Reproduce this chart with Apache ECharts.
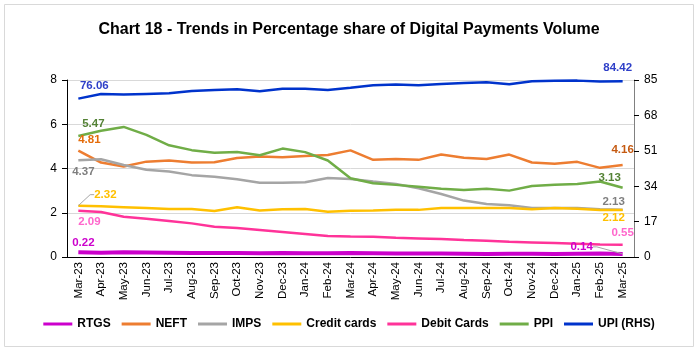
<!DOCTYPE html>
<html><head><meta charset="utf-8">
<script src="https://cdn.jsdelivr.net/npm/echarts@6/dist/echarts.min.js"></script>
<style>html,body{margin:0;padding:0;background:#fff}#c{width:698px;height:356px}</style>
</head><body><div id="c"></div>
<script>
const categories = ['Mar-23','Apr-23','May-23','Jun-23','Jul-23','Aug-23','Sep-23','Oct-23','Nov-23','Dec-23','Jan-24','Feb-24','Mar-24','Apr-24','May-24','Jun-24','Jul-24','Aug-24','Sep-24','Oct-24','Nov-24','Dec-24','Jan-25','Feb-25','Mar-25'];
const rtgs   = [0.22,0.19,0.21,0.20,0.19,0.18,0.18,0.18,0.17,0.18,0.17,0.17,0.18,0.17,0.16,0.16,0.16,0.15,0.14,0.15,0.15,0.14,0.15,0.16,0.14];
const neft   = [4.81,4.27,4.09,4.31,4.36,4.27,4.28,4.47,4.54,4.51,4.57,4.61,4.82,4.39,4.43,4.39,4.63,4.49,4.43,4.63,4.27,4.22,4.30,4.03,4.16];
const imps   = [4.37,4.42,4.16,3.94,3.86,3.70,3.63,3.51,3.36,3.36,3.38,3.57,3.53,3.41,3.30,3.11,2.85,2.55,2.40,2.34,2.22,2.22,2.21,2.16,2.13];
const credit = [2.32,2.29,2.25,2.21,2.17,2.17,2.08,2.25,2.10,2.16,2.17,2.05,2.09,2.10,2.13,2.13,2.22,2.21,2.21,2.21,2.16,2.21,2.18,2.12,2.12];
const debit  = [2.09,2.03,1.82,1.73,1.63,1.52,1.37,1.31,1.22,1.13,1.04,0.95,0.93,0.92,0.87,0.84,0.81,0.77,0.74,0.69,0.66,0.63,0.60,0.57,0.55];
const ppi    = [5.47,5.71,5.88,5.52,5.05,4.83,4.71,4.75,4.60,4.90,4.74,4.36,3.56,3.33,3.26,3.18,3.08,3.03,3.08,3.00,3.21,3.26,3.30,3.41,3.13];
const upi    = [76.06,78.3,78.0,78.3,78.6,79.7,80.2,80.5,79.6,80.8,80.8,80.2,81.3,82.5,82.8,82.5,83.1,83.6,83.9,83.0,84.4,84.6,84.7,84.3,84.42];
const leftTicks = {min:0,max:8,interval:2};
const rightTicks = {min:0,max:85,interval:17};

const FONT = '"Liberation Sans",Arial,sans-serif';
// label placement: [dx, dy, showLeaderLine]
function withLabels(arr, firstColor, lastColor, firstLead, lastLead){
  return arr.map((v,i)=>{
    if(i===0) return {value:v,label:{show:true,position:'inside',color:firstColor},labelLine:{show:!!firstLead}};
    if(i===arr.length-1) return {value:v,label:{show:true,position:'inside',color:lastColor},labelLine:{show:!!lastLead}};
    return v;
  });
}
function mk(name, color, width, yAxisIndex, data, firstOff, lastOff){
  const n = data.length;
  return {
    name, type:'line', data, yAxisIndex: yAxisIndex||0,
    symbol:'circle', symbolSize:0.1, showSymbol:true, showAllSymbol:true,
    itemStyle:{color},
    lineStyle:{color, width},
    label:{show:false, fontFamily:FONT, fontWeight:'bold', fontSize:11.5},
    labelLine:{show:false, length2:4, lineStyle:{color:'#a5a5a5', width:1}},
    labelLayout:function(p){
      if(p.dataIndex===0) return {dx:firstOff[0], dy:firstOff[1]};
      if(p.dataIndex===n-1) return {dx:lastOff[0], dy:lastOff[1]};
      return {};
    },
    emphasis:{disabled:true}, animation:false
  };
}
const chart = echarts.init(document.getElementById('c'), null, {renderer:'canvas'});
chart.setOption({
  animation:false,
  title:{text:'Chart 18 - Trends in Percentage share of Digital Payments Volume', left:'center', top:17,
    textStyle:{fontFamily:FONT, fontWeight:'bold', fontSize:16, color:'#000'}},
  graphic:[{type:'rect', shape:{x:4.5,y:4.5,width:689,height:342}, style:{fill:'none', stroke:'#d9d9d9', lineWidth:1}, silent:true}],
  legend:{bottom:21, left:'center', itemWidth:29, itemHeight:3, itemGap:11,
    textStyle:{fontFamily:FONT, fontSize:12, fontWeight:'bold', color:'#000'},
    data:['RTGS','NEFT','IMPS','Credit cards','Debit Cards','PPI','UPI (RHS)'].map(n=>({name:n, icon:'rect'}))},
  grid:{left:67, right:64, top:80, bottom:99},
  xAxis:{type:'category', data:categories, boundaryGap:true,
    axisLine:{lineStyle:{color:'#000'}}, axisTick:{show:false},
    axisLabel:{rotate:90, interval:0, fontFamily:FONT, fontSize:11.5, color:'#000', margin:5}},
  yAxis:[
    {type:'value', min:leftTicks.min, max:leftTicks.max, interval:leftTicks.interval,
     axisLine:{show:true, lineStyle:{color:'#000'}}, axisTick:{show:true, length:5, lineStyle:{color:'#000'}},
     axisLabel:{fontFamily:FONT, fontSize:12, color:'#000', margin:10},
     splitLine:{lineStyle:{color:'#d9d9d9'}}},
    {type:'value', min:rightTicks.min, max:rightTicks.max, interval:rightTicks.interval, position:'right',
     axisLine:{show:true, lineStyle:{color:'#808080'}}, axisTick:{show:true, length:5, lineStyle:{color:'#000'}},
     axisLabel:{fontFamily:FONT, fontSize:12, color:'#000', margin:10},
     splitLine:{show:false}}
  ],
  series:[
    mk('RTGS', '#cc00cc', 4, 0, withLabels(rtgs,'#cc00cc','#cc00cc',false,true), [5,-9], [-41,-7]),
    mk('NEFT', '#ed7d31', 2.5, 0, withLabels(neft,'#e46c0a','#c55a11'), [11,-11], [0,-15]),
    mk('IMPS', '#a5a5a5', 2.5, 0, withLabels(imps,'#7f7f7f','#7f7f7f'), [5,12], [-9,-8]),
    mk('Credit cards', '#ffc000', 2.5, 0, withLabels(credit,'#ffc000','#ffc000',true,false), [27,-11], [-9,8]),
    mk('Debit Cards', '#ff3399', 2.5, 0, withLabels(debit,'#ff66cc','#ff66cc'), [11,11], [0,-12]),
    mk('PPI', '#70ad47', 2.5, 0, withLabels(ppi,'#548235','#548235'), [15,-12], [-13,-10]),
    mk('UPI (RHS)', '#0033cc', 2.5, 1, withLabels(upi,'#2e3fc8','#2e3fc8'), [16,-13], [-5,-13])
  ]
});
</script></body></html>
